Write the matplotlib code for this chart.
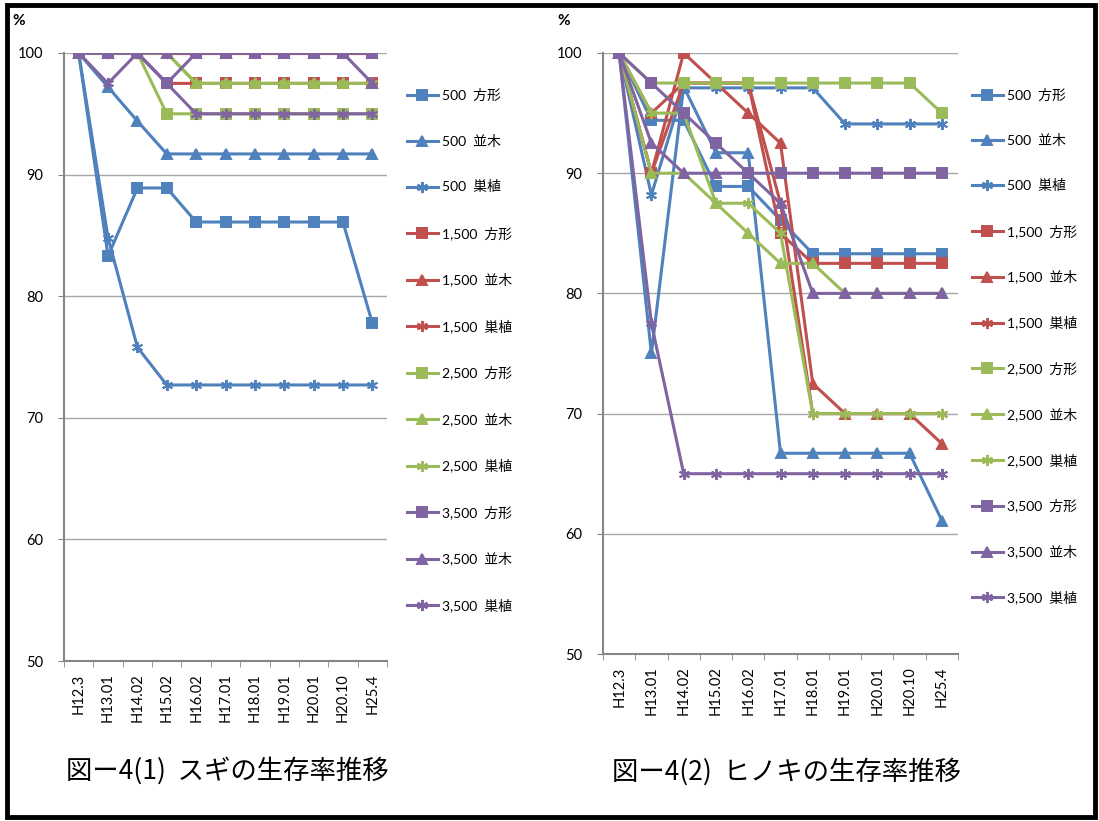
import matplotlib
matplotlib.use('Agg')
import matplotlib.pyplot as plt
from matplotlib.patches import Rectangle

plt.rcParams['font.family'] = ['Lato', 'Noto Sans CJK JP', 'DejaVu Sans']

cats = ['H12.3', 'H13.01', 'H14.02', 'H15.02', 'H16.02', 'H17.01',
        'H18.01', 'H19.01', 'H20.01', 'H20.10', 'H25.4']

labels = ['500  方形', '500  並木', '500  巣植',
          '1,500  方形', '1,500  並木', '1,500  巣植',
          '2,500  方形', '2,500  並木', '2,500  巣植',
          '3,500  方形', '3,500  並木', '3,500  巣植']

# スギ
sugi_500_hou = [100, 83.3, 88.9, 88.9, 86.1, 86.1, 86.1, 86.1, 86.1, 86.1, 77.8]
sugi_500_nam = [100, 97.2, 94.4, 91.7, 91.7, 91.7, 91.7, 91.7, 91.7, 91.7, 91.7]
sugi_500_su = [100, 84.8, 75.8, 72.7, 72.7, 72.7, 72.7, 72.7, 72.7, 72.7, 72.7]
sugi_1500_hou = [100, 100, 100, 97.5, 97.5, 97.5, 97.5, 97.5, 97.5, 97.5, 97.5]
sugi_1500_nam = [100, 100, 100, 100, 100, 100, 100, 100, 100, 100, 100]
sugi_1500_su = [100, 100, 100, 100, 100, 100, 100, 100, 100, 100, 100]
sugi_2500_hou = [100, 100, 100, 95, 95, 95, 95, 95, 95, 95, 95]
sugi_2500_nam = [100, 100, 100, 100, 97.5, 97.5, 97.5, 97.5, 97.5, 97.5, 97.5]
sugi_2500_su = [100, 100, 100, 100, 97.5, 97.5, 97.5, 97.5, 97.5, 97.5, 97.5]
sugi_3500_hou = [100, 100, 100, 97.5, 100, 100, 100, 100, 100, 100, 100]
sugi_3500_nam = [100, 100, 100, 100, 100, 100, 100, 100, 100, 100, 97.5]
sugi_3500_su = [100, 97.5, 100, 97.5, 95, 95, 95, 95, 95, 95, 95]

# ヒノキ
hino_500_hou = [100, 94.4, 94.4, 88.9, 88.9, 86.1, 83.3, 83.3, 83.3, 83.3, 83.3]
hino_500_nam = [100, 75.0, 97.2, 91.7, 91.7, 66.7, 66.7, 66.7, 66.7, 66.7, 61.1]
hino_500_su = [100, 88.2, 97.1, 97.1, 97.1, 97.1, 97.1, 94.1, 94.1, 94.1, 94.1]
hino_1500_hou = [100, 90, 100, 97.5, 97.5, 85, 82.5, 82.5, 82.5, 82.5, 82.5]
hino_1500_nam = [100, 95, 97.5, 97.5, 95, 92.5, 72.5, 70, 70, 70, 67.5]
hino_1500_su = [100, 90, 97.5, 97.5, 97.5, 87.5, 70, 70, 70, 70, 70]
hino_2500_hou = [100, 97.5, 97.5, 97.5, 97.5, 97.5, 97.5, 97.5, 97.5, 97.5, 95]
hino_2500_nam = [100, 90, 90, 87.5, 85, 82.5, 82.5, 80, 80, 80, 80]
hino_2500_su = [100, 95, 95, 87.5, 87.5, 85, 70, 70, 70, 70, 70]
hino_3500_hou = [100, 97.5, 95, 92.5, 90, 90, 90, 90, 90, 90, 90]
hino_3500_nam = [100, 92.5, 90, 90, 90, 87.5, 80, 80, 80, 80, 80]
hino_3500_su = [100, 77.5, 65, 65, 65, 65, 65, 65, 65, 65, 65]

sugi = [sugi_500_hou, sugi_500_nam, sugi_500_su,
        sugi_1500_hou, sugi_1500_nam, sugi_1500_su,
        sugi_2500_hou, sugi_2500_nam, sugi_2500_su,
        sugi_3500_hou, sugi_3500_nam, sugi_3500_su]
hino = [hino_500_hou, hino_500_nam, hino_500_su,
        hino_1500_hou, hino_1500_nam, hino_1500_su,
        hino_2500_hou, hino_2500_nam, hino_2500_su,
        hino_3500_hou, hino_3500_nam, hino_3500_su]

colors = ['#4F81BD', '#C0504D', '#9BBB59', '#8064A2']
markers = ['s', '^', (6, 2, 0)]


def draw(ax, series, leg_x, leg_y, spacing):
    x = list(range(len(cats)))
    for i, ys in enumerate(series):
        c = colors[i // 3]
        m = markers[i % 3]
        ax.plot(x, ys, color=c, lw=2.2, marker=m, ms=6.5 if i % 3 != 2 else 8,
                mec=c, mfc=c, mew=1.4, label=labels[i])
    ax.set_xlim(-0.5, len(cats) - 0.5)
    ax.set_ylim(50, 100)
    ax.set_yticks([50, 60, 70, 80, 90, 100])
    ax.yaxis.grid(True, color='#a6a6a6', lw=1)
    ax.set_axisbelow(True)
    ax.set_xticks(x)
    ax.set_xticklabels(cats, rotation=90, fontsize=10.5)
    ax.set_xticks([v - 0.5 for v in range(len(cats) + 1)], minor=True)
    ax.tick_params(axis='x', which='major', length=0, pad=9)
    ax.tick_params(axis='x', which='minor', length=4, color='#868686', direction='out')
    ax.tick_params(axis='y', length=4, color='#868686', pad=11, labelsize=10.5)
    for s in ['top', 'right']:
        ax.spines[s].set_visible(False)
    for s in ['left', 'bottom']:
        ax.spines[s].set_color('#868686')
        ax.spines[s].set_linewidth(1.5)
    ax.legend(loc='upper left', bbox_to_anchor=(leg_x, leg_y),
              bbox_transform=fig.transFigure, frameon=False, fontsize=10,
              borderpad=0, borderaxespad=0, labelspacing=spacing,
              handlelength=2.2, handletextpad=0.3)


fig = plt.figure(figsize=(10.99, 8.21), dpi=100)

ax1 = fig.add_axes([64 / 1099, 1 - 661 / 821, 323 / 1099, 608 / 821])
ax2 = fig.add_axes([603 / 1099, 1 - 654 / 821, 355 / 1099, 601 / 821])

draw(ax1, sugi, 407 / 1099, 1 - 89 / 821, 2.35)
draw(ax2, hino, 972 / 1099, 1 - 89 / 821, 2.3)

fig.text(12 / 1099, 1 - 21 / 821, '%', fontsize=11, fontweight='bold', va='center')
fig.text(557 / 1099, 1 - 21 / 821, '%', fontsize=11, fontweight='bold', va='center')

fig.text(66 / 1099, 1 - 771 / 821, '図ー4(1)  スギの生存率推移', fontsize=19,
         va='center', family=['Noto Sans CJK JP'])
fig.text(612 / 1099, 1 - 772 / 821, '図ー4(2)  ヒノキの生存率推移', fontsize=19,
         va='center', family=['Noto Sans CJK JP'])

fig.patches.append(Rectangle((7 / 1099, 4 / 821), 1088 / 1099, 812 / 821,
                             transform=fig.transFigure, fill=False,
                             edgecolor='black', lw=3.5))

fig.savefig('out.png', dpi=100)
